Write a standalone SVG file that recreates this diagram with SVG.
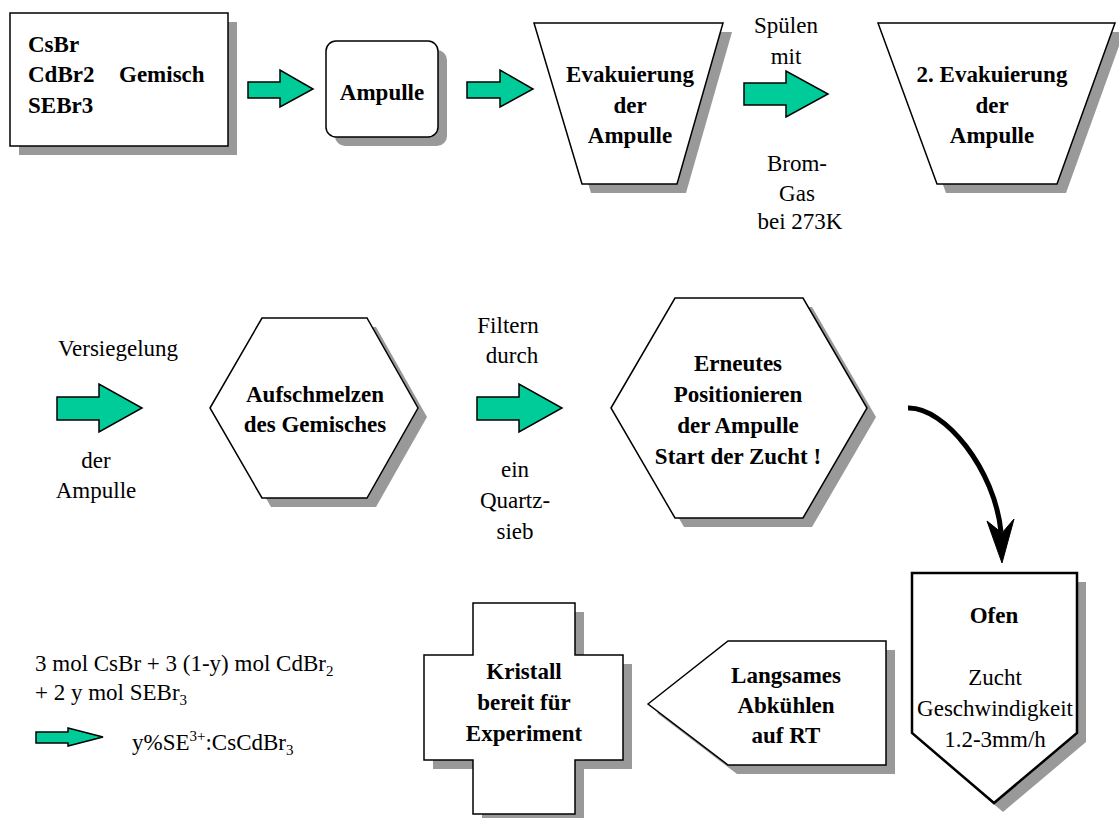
<svg xmlns="http://www.w3.org/2000/svg" width="1119" height="818" viewBox="0 0 1119 818" font-family="'Liberation Serif', Tinos, 'DejaVu Serif', serif">
<style>
.sh{fill:#999}
.nd{fill:#fff;stroke:#000;stroke-width:1.5;stroke-linejoin:miter}
.ar{fill:#00cc99;stroke:#000;stroke-width:1.5}
text{font-family:'Liberation Serif', Tinos, 'DejaVu Serif', serif;font-size:23px;fill:#000}
.b{font-weight:bold;text-anchor:middle}
.r{text-anchor:middle}
.l{text-anchor:start}
</style>
<rect width="1119" height="818" fill="#fff"/>

<g id="n-gemisch">
<rect class="sh" x="19" y="22" width="218" height="133"/>
<rect class="nd" x="10" y="13" width="218" height="133"/>
<text class="b l" x="28" y="52">CsBr</text>
<text class="b l" x="28" y="82">CdBr2</text>
<text class="b l" x="119" y="82">Gemisch</text>
<text class="b l" x="28" y="113">SEBr3</text>
</g>

<g id="n-ampulle">
<rect class="sh" x="335" y="50" width="112" height="96" rx="10"/>
<rect class="nd" x="326" y="41" width="112" height="96" rx="10"/>
<text class="b" x="382" y="100">Ampulle</text>
</g>

<g id="n-evak1">
<polygon class="sh" points="543,32 732,32 686,193 591,193"/>
<polygon class="nd" points="534,23 723,23 677,184 582,184"/>
<text class="b" x="630" y="82">Evakuierung</text>
<text class="b" x="630" y="113">der</text>
<text class="b" x="630" y="143">Ampulle</text>
</g>

<g id="n-evak2">
<polygon class="sh" points="887,32 1124,32 1066,193 946,193"/>
<polygon class="nd" points="878,23 1115,23 1057,184 937,184"/>
<text class="b" x="992" y="82">2. Evakuierung</text>
<text class="b" x="992" y="113">der</text>
<text class="b" x="992" y="143">Ampulle</text>
</g>

<g id="n-aufschmelzen">
<polygon class="sh" points="219,417 271,327 376,327 427,417 376,507 271,507"/>
<polygon class="nd" points="210,408 262,318 367,318 418,408 367,498 262,498"/>
<text class="b" x="315" y="402">Aufschmelzen</text>
<text class="b" x="315" y="432">des Gemisches</text>
</g>

<g id="n-positionieren">
<polygon class="sh" points="620,417 684,307 812,307 876,417 812,527 684,527"/>
<polygon class="nd" points="611,408 675,298 803,298 867,408 803,518 675,518"/>
<text class="b" x="738" y="371">Erneutes</text>
<text class="b" x="738" y="402">Positionieren</text>
<text class="b" x="738" y="433">der Ampulle</text>
<text class="b" x="738" y="464">Start der Zucht !</text>
</g>

<g id="n-ofen">
<polygon class="sh" points="921,582 1086,582 1086,742 1003,812 921,742"/>
<polygon class="nd" style="stroke-width:2.5" points="912,573 1077,573 1077,733 994,803 912,733"/>
<text class="b" x="994" y="623">Ofen</text>
<text class="r" x="995" y="685">Zucht</text>
<text class="r" x="995" y="716">Geschwindigkeit</text>
<text class="r" x="995" y="747">1.2-3mm/h</text>
</g>

<g id="n-abkuehlen">
<polygon class="sh" points="657,713 737,650 895,650 895,774 737,774"/>
<polygon class="nd" points="648,704 728,641 886,641 886,765 728,765"/>
<text class="b" x="786" y="683">Langsames</text>
<text class="b" x="786" y="713">Abkühlen</text>
<text class="b" x="786" y="743">auf RT</text>
</g>

<g id="n-kristall">
<polygon class="sh" points="482,612 584,612 584,664 632,664 632,769 584,769 584,823 482,823 482,769 433,769 433,664 482,664"/>
<polygon class="nd" points="473,603 575,603 575,655 623,655 623,760 575,760 575,814 473,814 473,760 424,760 424,655 473,655"/>
<text class="b" x="524" y="679">Kristall</text>
<text class="b" x="524" y="710">bereit für</text>
<text class="b" x="524" y="741">Experiment</text>
</g>

<g id="connectors">
<polygon class="ar" points="248,82 280,82 280,70 313,89 280,107 280,98 248,98"/>
<polygon class="ar" points="467,82 500,82 500,70 533,89 500,107 500,98 467,98"/>
<polygon class="ar" points="744,83 786,83 786,71 828,94 786,117 786,105 744,105"/>
<polygon class="ar" points="57,397 99,397 99,384 142,408 99,432 99,420 57,420"/>
<polygon class="ar" points="477,397 519,397 519,384 562,408 519,432 519,420 477,420"/>
<path d="M908,408 C945,407 995,470 1001,532" fill="none" stroke="#000" stroke-width="5"/>
<polygon points="1002,563 987,521 1002,533 1014,519" fill="#000" stroke="#000" stroke-width="1"/>
</g>

<g id="labels">
<text class="r" x="786" y="33">Spülen</text>
<text class="r" x="786" y="64">mit</text>
<text class="r" x="797" y="171">Brom-</text>
<text class="r" x="797" y="201">Gas</text>
<text class="r" x="800" y="229">bei 273K</text>
<text class="r" x="118" y="356">Versiegelung</text>
<text class="r" x="96" y="468">der</text>
<text class="r" x="96" y="498">Ampulle</text>
<text class="r" x="508" y="333">Filtern</text>
<text class="r" x="512" y="363">durch</text>
<text class="r" x="515" y="477">ein</text>
<text class="r" x="515" y="508">Quartz-</text>
<text class="r" x="515" y="539">sieb</text>
</g>

<g id="equation">
<text class="r l" x="35" y="671">3 mol CsBr + 3 (1-y) mol CdBr<tspan font-size="15" dy="5">2</tspan></text>
<text class="r l" x="35" y="700">+ 2 y mol SEBr<tspan font-size="15" dy="5">3</tspan></text>
<polygon class="ar" points="36,732 68,732 68,728 103,737 68,746 68,743 36,743"/>
<text class="r l" x="132" y="750">y%SE<tspan font-size="15" dy="-9">3+</tspan><tspan dy="9">:CsCdBr</tspan><tspan font-size="15" dy="5">3</tspan></text>
</g>
</svg>
